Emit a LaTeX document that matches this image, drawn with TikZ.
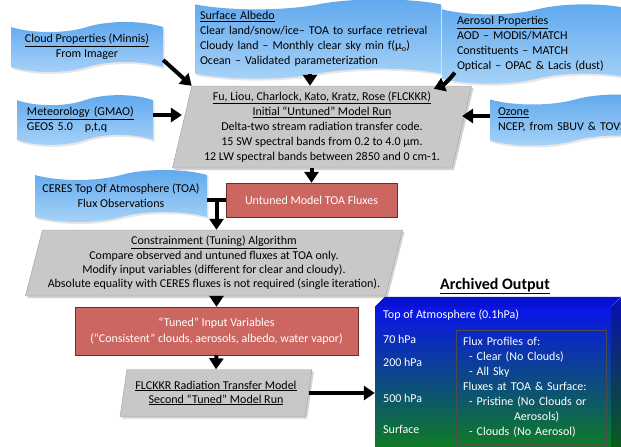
\documentclass[tikz,border=0pt]{standalone}
\usepackage{fontspec}
\setmainfont{Carlito}
\usetikzlibrary{calc, shapes.symbols, shapes.geometric, arrows.meta, shadows}

\definecolor{wavetop}{RGB}{95,168,238}
\definecolor{wavebot}{RGB}{168,211,247}
\definecolor{slantfill}{RGB}{200,200,200}
\definecolor{slantline}{RGB}{160,160,160}
\definecolor{redfill}{RGB}{204,102,96}
\definecolor{redline}{RGB}{110,45,40}
\definecolor{toablue}{RGB}{10,20,235}
\definecolor{midteal}{RGB}{10,60,115}
\definecolor{sfcgreen}{RGB}{15,125,35}

\tikzset{
  every node/.style={font=\fontsize{12pt}{15pt}\selectfont},
  wave/.style={tape, tape bend top=in and out, tape bend bottom=in and out,
    tape bend height=10pt, inner sep=2pt, top color=wavetop, bottom color=wavebot,
    drop shadow={opacity=0.2, shadow xshift=1.5pt, shadow yshift=-2pt}},
  slant/.style={trapezium, trapezium stretches=true, draw=slantline, fill=slantfill,
    inner sep=0pt, drop shadow={opacity=0.35, shadow xshift=2pt, shadow yshift=-2pt}},
  redbox/.style={rectangle, draw=redline, fill=redfill, text=white, inner sep=2pt},
  arr/.style={line width=4pt, -{Triangle[length=11pt, width=14pt]}},
  bar/.style={line width=4.5pt},
  lvl/.style={anchor=west, text=white, inner sep=0pt},
}

\begin{document}
\begin{tikzpicture}[x=1pt, y=-1pt]
\useasboundingbox (0,0) rectangle (621,447);

% inputs
\node[wave, minimum width=152pt, minimum height=50pt, align=center] (cloudprop) at (87,47)
  {\underline{Cloud Properties (Minnis)}\\From Imager};
\node[wave, minimum width=136pt, minimum height=46pt, text width=116pt, align=left] (meteo) at (85,120)
  {\underline{Meteorology (GMAO)}\\GEOS 5.0\ \ \ p,t,q};
\node[wave, minimum width=246pt, minimum height=75pt, text width=236pt, align=left] (albedo) at (318,39)
  {\underline{Surface Albedo}\\Clear land/snow/ice– TOA to surface retrieval\\Cloudy land – Monthly clear sky min f(μ\textsubscript{o})\\Ocean – Validated parameterization};
\node[wave, minimum width=190pt, minimum height=79pt, text width=160pt, align=left] (aerosol) at (537,44)
  {\underline{Aerosol Properties}\\AOD – MODIS/MATCH\\Constituents – MATCH\\Optical – OPAC \& Lacis (dust)};
\node[wave, minimum width=170pt, minimum height=51pt, text width=154pt, align=left] (ozone) at (575,120)
  {\underline{Ozone}\\NCEP, from SBUV \& TOVS};
\node[wave, minimum width=172pt, minimum height=52pt, align=center] (ceres) at (121,196)
  {CERES Top Of Atmosphere (TOA)\\Flux Observations};

% model runs
\node[slant, trapezium left angle=76, trapezium right angle=104, minimum width=300pt, minimum height=82pt, align=center] (main) at (322,127)
  {\underline{Fu, Liou, Charlock, Kato, Kratz, Rose (FLCKKR)}\\\underline{Initial “Untuned” Model Run}\\Delta-two stream radiation transfer code.\\15 SW spectral bands from 0.2 to 4.0 μm.\\12 LW spectral bands between 2850 and 0 cm-1.};
\node[redbox, minimum width=171pt, minimum height=34pt] (untuned) at (311.5,200) {Untuned Model TOA Fluxes};
\node[slant, trapezium left angle=73, trapezium right angle=107, minimum width=378pt, minimum height=66pt, align=center,
  font=\fontsize{12pt}{14.3pt}\selectfont] (constr) at (214,263)
  {\underline{Constrainment (Tuning) Algorithm}\\Compare observed and untuned fluxes at TOA only.\\Modify input variables (different for clear and cloudy).\\Absolute equality with CERES fluxes is not required (single iteration).};
\node[redbox, minimum width=283pt, minimum height=48pt, align=center, font=\fontsize{12pt}{16pt}\selectfont] (tuned) at (216.5,331)
  {“Tuned” Input Variables\\(“Consistent” clouds, aerosols, albedo, water vapor)};
\node[slant, trapezium left angle=76, trapezium right angle=104, minimum width=192pt, minimum height=47pt, align=center,
  font=\fontsize{12pt}{14pt}\selectfont] (second) at (216,393)
  {\underline{FLCKKR Radiation Transfer Model}\\\underline{Second “Tuned” Model Run}};

% archived output
\node[font=\bfseries\fontsize{16pt}{18pt}\selectfont] (title) at (495,286) {\underline{Archived Output}};
\node[rectangle, minimum width=236pt, minimum height=142pt, inner sep=0pt,
  top color=toablue, middle color=midteal, bottom color=sfcgreen] (archive) at (493,378) {};
\fill[toablue!90!black] (archive.north west) -- ++(10,-10) -- ++(236,0) -- (archive.north east) -- cycle;
\shade[top color=toablue!75!black, bottom color=sfcgreen!75!black] (archive.north east) -- ++(10,-10) -- ++(0,152) -- (archive.south east) -- cycle;
\node[lvl] (toa) at (383,315) {Top of Atmosphere (0.1hPa)};
\node[lvl] (p70) at (383,339) {70 hPa};
\node[lvl] (p200) at (383,362) {200 hPa};
\node[lvl] (p500) at (383,398) {500 hPa};
\node[lvl] (sfc) at (383,429) {Surface};
\node[draw=black!70, line width=0.8pt, minimum width=150pt, minimum height=112pt, inner sep=7pt, text width=136pt,
  align=left, text=white] (profiles) at (531,387)
  {Flux Profiles of:\\\hspace{6pt}- Clear (No Clouds)\\\hspace{6pt}- All Sky\\Fluxes at TOA \& Surface:\\\hspace{6pt}- Pristine (No Clouds or\\\hspace{51pt}Aerosols)\\\hspace{6pt}- Clouds (No Aerosol)};

% connectors
\draw[arr] ([yshift=-13pt]cloudprop.east) -- (main.top left corner);
\draw[arr] ([yshift=5pt]meteo.east) -- ([yshift=5pt]meteo.east -| main.west);
\draw[arr] ([xshift=-8pt]albedo.south) -- ([xshift=-8pt]albedo.south |- main.north);
\draw[arr] ([xshift=13pt, yshift=6pt]aerosol.south west) to[bend left=15] ([xshift=-38pt, yshift=-3pt]main.top right corner);
\draw[arr] ([yshift=4pt]ozone.west) -- ([yshift=4pt]ozone.west -| main.east);
\draw[arr] (untuned.north |- main.south) -- (untuned.north);
\draw[bar] (ceres.east |- untuned.west) -- (untuned.west);
\coordinate (tee) at ($(ceres.east |- untuned.west)!0.5!(untuned.west)$);
\draw[arr] (tee) -- (tee |- constr.north);
\draw[arr] (tuned.north |- constr.south) -- (tuned.north);
\draw[arr] (tuned.south) -- (second.north);
\draw[arr] (second.east) -- (second.east -| archive.west);
\end{tikzpicture}
\end{document}
